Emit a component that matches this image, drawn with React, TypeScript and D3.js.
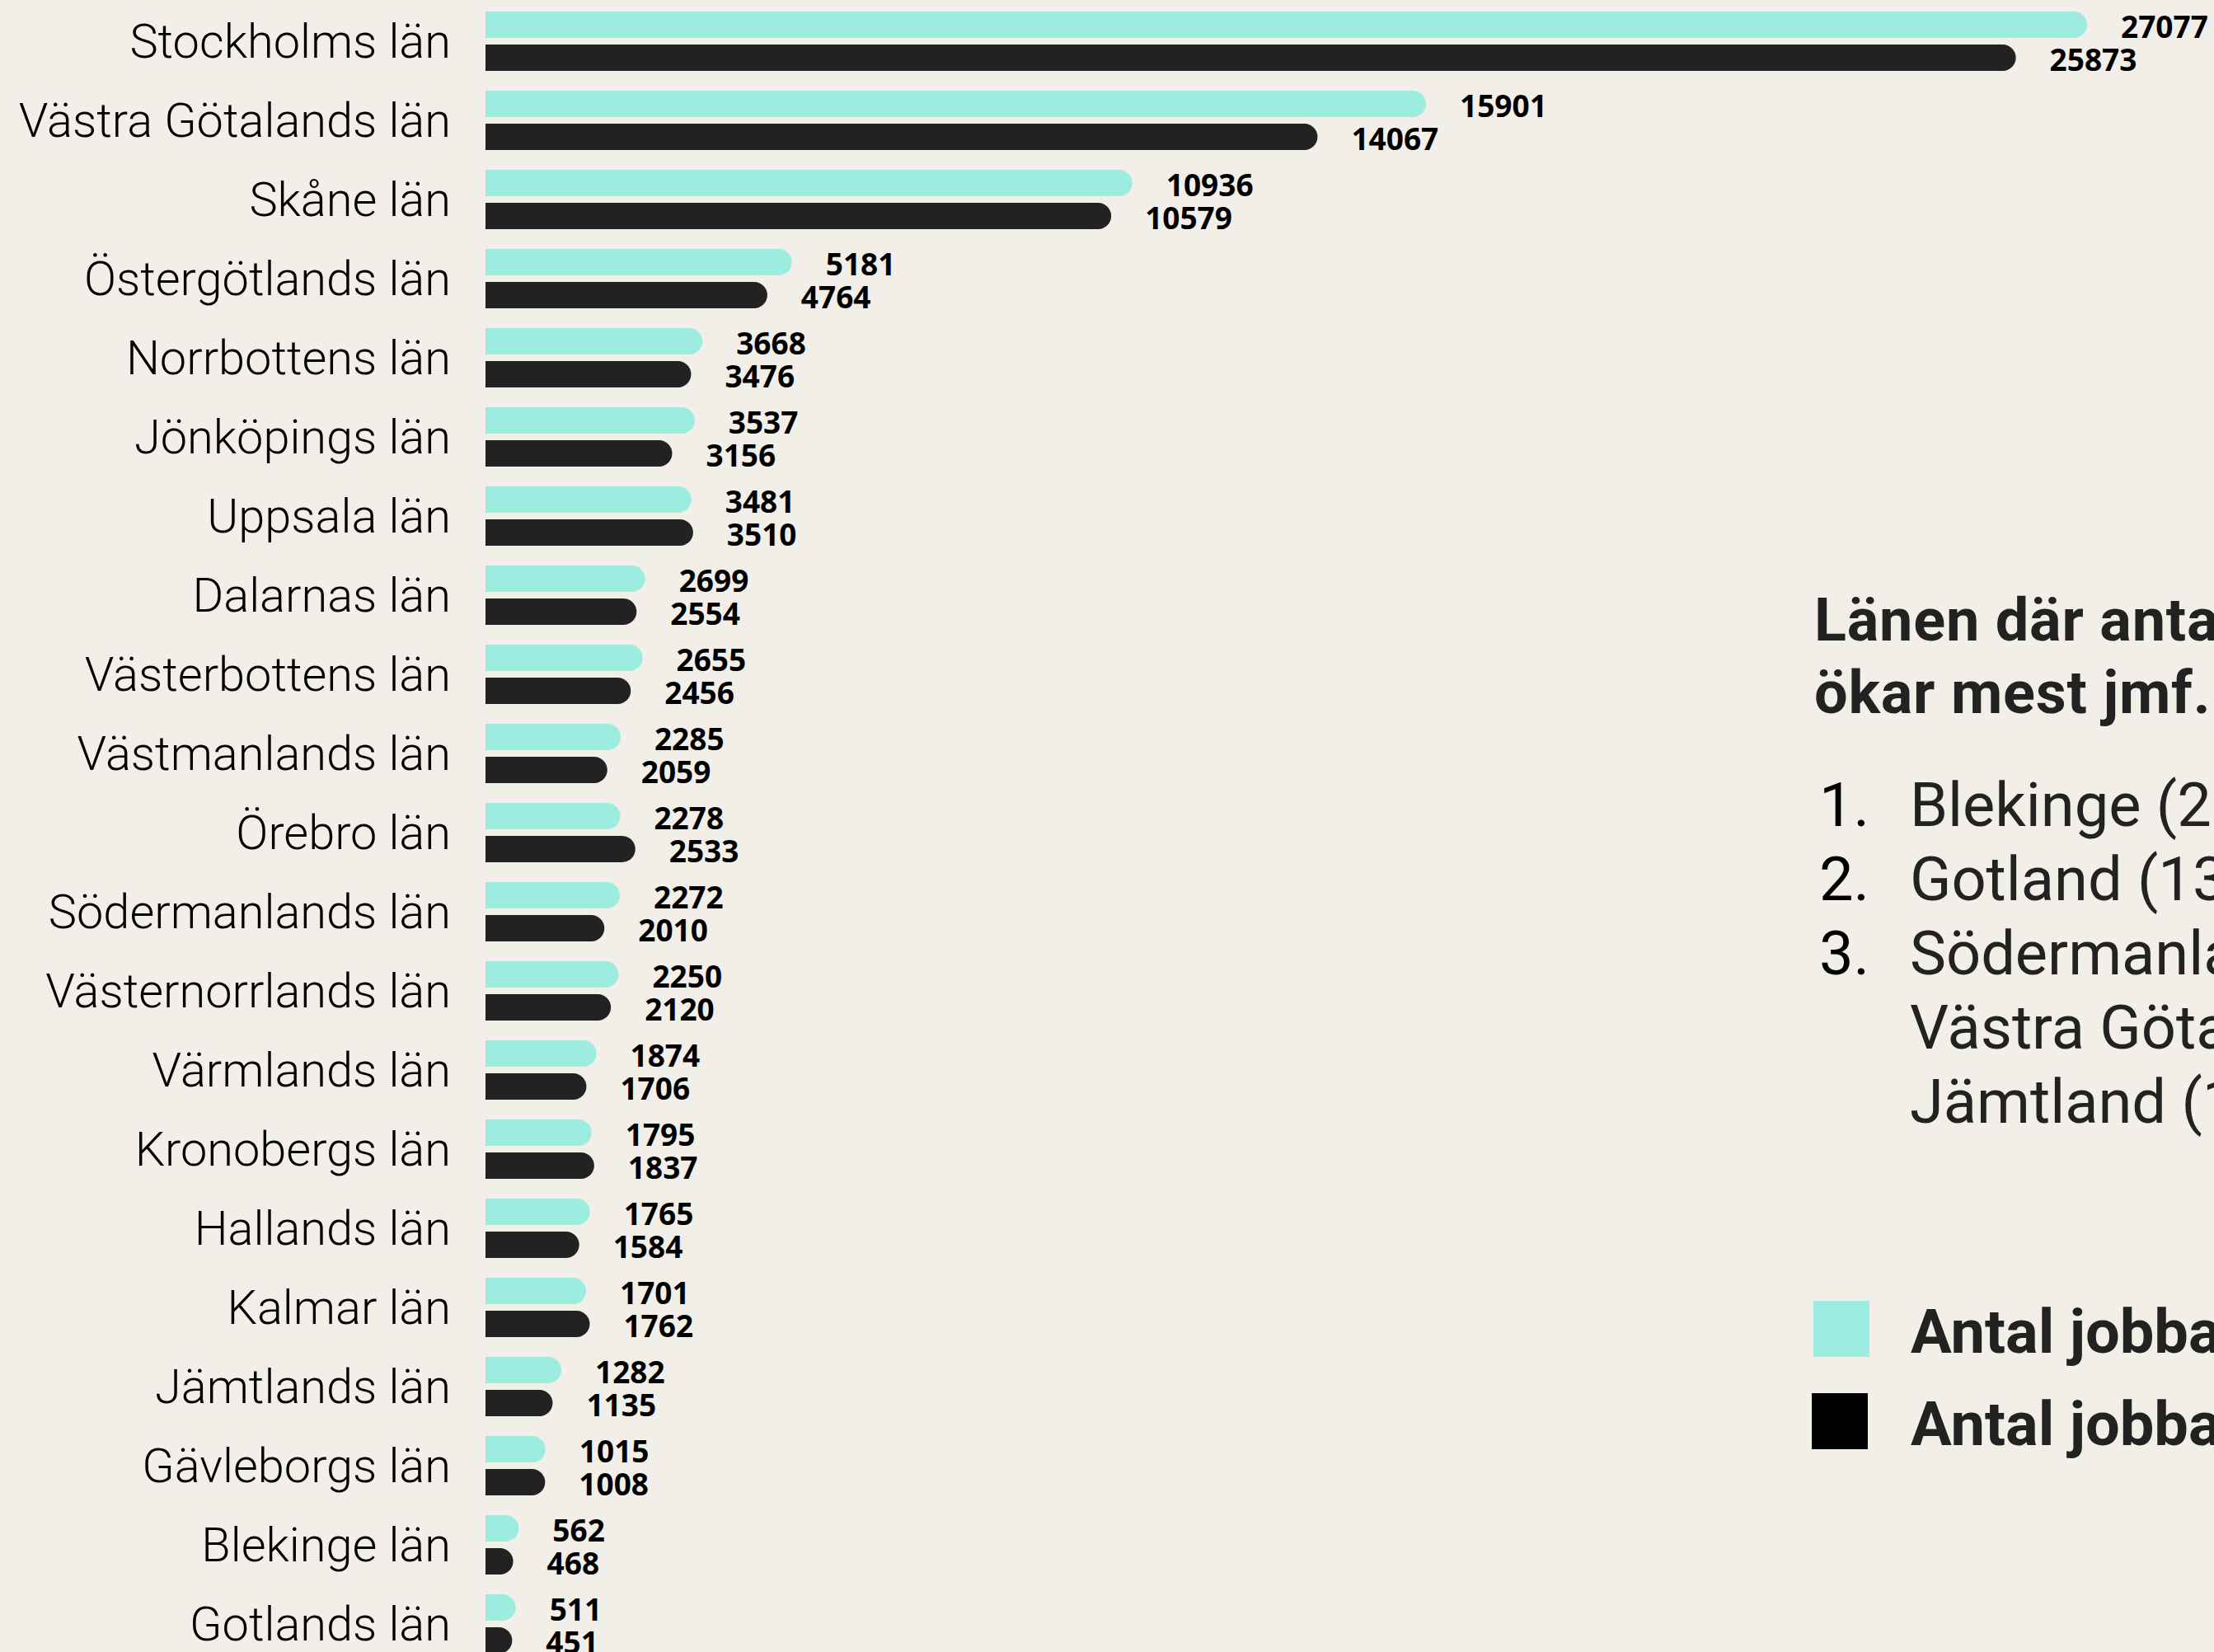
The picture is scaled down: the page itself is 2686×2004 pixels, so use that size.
import * as d3 from 'd3';
import { useEffect, useRef } from 'react';

const categories = ['Stockholms län', 'Västra Götalands län', 'Skåne län', 'Östergötlands län', 'Norrbottens län', 'Jönköpings län', 'Uppsala län', 'Dalarnas län', 'Västerbottens län', 'Västmanlands län', 'Örebro län', 'Södermanlands län', 'Västernorrlands län', 'Värmlands län', 'Kronobergs län', 'Hallands län', 'Kalmar län', 'Jämtlands län', 'Gävleborgs län', 'Blekinge län', 'Gotlands län'];

const jobs2023 = [27077, 15901, 10936, 5181, 3668, 3537, 3481, 2699, 2655, 2285, 2278, 2272, 2250, 1874, 1795, 1765, 1701, 1282, 1015, 562, 511];
const jobs2022 = [25873, 14067, 10579, 4764, 3476, 3156, 3510, 2554, 2456, 2059, 2533, 2010, 2120, 1706, 1837, 1584, 1762, 1135, 1008, 468, 451];

const titleLines = ['Länen där antalet jobbannonser', 'ökar mest jmf. med förra året'];
const topList = [
  { num: '1.', text: 'Blekinge (20 %)' },
  { num: '2.', text: 'Gotland (13 %)' },
  { num: '3.', text: 'Södermanland (13 %)' },
  { num: '', text: 'Västra Götaland (13 %)' },
  { num: '', text: 'Jämtland (13 %)' }
];
const legendItems = [
  { label: 'Antal jobbannonser 2023', color: '#9cede0' },
  { label: 'Antal jobbannonser 2022', color: '#000000' }
];

const W = 2686;
const H = 2004;
const BG = '#f2eee8';
const TEAL = '#9cede0';
const DARK = '#222222';

// bar with square left edge and fully rounded right end
const roundedBar = (x0, x1, y, h) => {
  const r = Math.min(h / 2, x1 - x0);
  return `M${x0},${y}H${x1 - r}A${r},${r} 0 0 1 ${x1},${y + r}V${y + h - r}A${r},${r} 0 0 1 ${x1 - r},${y + h}H${x0}Z`;
};

const App = () => {
  const svgRef = useRef(null);

  useEffect(() => {
    const svg = d3.select(svgRef.current);
    svg.selectAll('*').remove();

    svg.append('rect').attr('width', W).attr('height', H).attr('fill', BG);

    // ── Scales ──────────────────────────────────────────────────────────────
    const x = d3.scaleLinear().domain([0, 27077]).range([589, 2532]);
    const y = d3.scaleBand().domain(categories).range([0, categories.length * 96]).padding(0);

    const barH = 32;
    const rows = categories.map((c, i) => ({ name: c, a: jobs2023[i], b: jobs2022[i] }));

    const g = svg.append('g');
    const row = g
      .selectAll('g.row')
      .data(rows)
      .join('g')
      .attr('class', 'row')
      .attr('transform', d => `translate(0,${y(d.name)})`);

    row
      .append('text')
      .attr('x', 547)
      .attr('y', 70)
      .attr('text-anchor', 'end')
      .attr('font-family', 'Roboto, "Liberation Sans", sans-serif')
      .attr('font-weight', 300)
      .attr('font-size', 57.7)
      .attr('fill', '#000')
      .text(d => d.name);

    row.append('path').attr('fill', TEAL).attr('d', d => roundedBar(x(0), x(d.a), 14, barH));
    row.append('path').attr('fill', DARK).attr('d', d => roundedBar(x(0), x(d.b), 54, barH));

    const valueText = sel =>
      sel.attr('font-family', '"Noto Sans", "Open Sans", sans-serif').attr('font-weight', 700).attr('font-size', 37).attr('fill', '#000');

    row
      .append('text')
      .attr('x', d => x(d.a) + 41)
      .attr('y', 46)
      .call(valueText)
      .text(d => d.a);
    row
      .append('text')
      .attr('x', d => x(d.b) + 41)
      .attr('y', 86)
      .call(valueText)
      .text(d => d.b);

    // ── Side panel ──────────────────────────────────────────────────────────
    const side = svg.append('g');
    side
      .selectAll('text.title')
      .data(titleLines)
      .join('text')
      .attr('class', 'title')
      .attr('x', 2201)
      .attr('y', (d, i) => 777 + i * 88)
      .attr('font-family', 'Roboto, sans-serif')
      .attr('font-weight', 700)
      .attr('font-size', 72)
      .attr('letter-spacing', 0.8)
      .attr('fill', DARK)
      .text(d => d);

    const items = side
      .selectAll('g.item')
      .data(topList)
      .join('g')
      .attr('class', 'item')
      .attr('transform', (d, i) => `translate(0,${1002 + i * 90})`);
    items
      .append('text')
      .attr('x', 2207)
      .attr('font-family', 'Roboto, sans-serif')
      .attr('font-size', 74)
      .attr('fill', '#000')
      .text(d => d.num);
    items
      .append('text')
      .attr('x', 2317)
      .attr('font-family', 'Roboto, sans-serif')
      .attr('font-size', 74)
      .attr('fill', DARK)
      .text(d => d.text);

    const legend = side
      .selectAll('g.legend')
      .data(legendItems)
      .join('g')
      .attr('class', 'legend')
      .attr('transform', (d, i) => `translate(0,${i * 112})`);
    legend
      .append('rect')
      .attr('x', (d, i) => 2200 - i * 2)
      .attr('y', 1578)
      .attr('width', 68)
      .attr('height', 68)
      .attr('fill', d => d.color);
    legend
      .append('text')
      .attr('x', 2318)
      .attr('y', 1641)
      .attr('font-family', 'Roboto, sans-serif')
      .attr('font-weight', 700)
      .attr('font-size', 74)
      .attr('fill', DARK)
      .text(d => d.label);
  }, []);

  return <svg ref={svgRef} width={W} height={H} style={{ position: 'absolute', left: 0, top: 0, display: 'block' }} />;
};

export default App;
